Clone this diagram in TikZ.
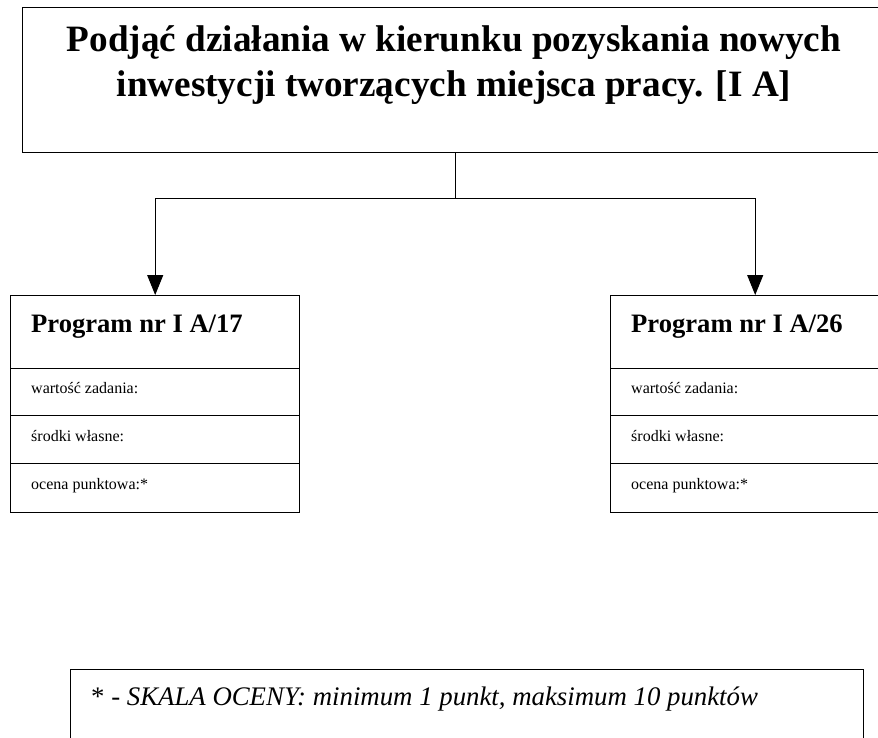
\documentclass[tikz,border=0pt]{standalone}
\usepackage{fontspec}
\setmainfont{Liberation Serif}
\usetikzlibrary{arrows.meta}
\begin{document}
\begin{tikzpicture}[x=1pt,y=-1pt,
  box/.style={draw, line width=1.4pt, inner sep=0pt, anchor=north west},
  conn/.style={line width=1pt},
  arr/.style={conn, -{Triangle[width=16pt,length=20pt]}},
  headtxt/.style={font=\fontsize{26.6}{30}\selectfont\bfseries, anchor=base west, inner sep=0pt},
  rowtxt/.style={font=\fontsize{16}{19}\selectfont, anchor=base west, inner sep=0pt}]
\useasboundingbox (0,0) rectangle (878,738);
\clip (0,0) rectangle (878,738);
% top box
\node[box, minimum width=866pt, minimum height=145pt] (top) at (22,7) {};
\node[font=\fontsize{37.2}{45}\selectfont\bfseries, align=center, anchor=base, inner sep=0pt] (title) at (454,97)
  {Podjąć działania w kierunku pozyskania nowych\\inwestycji tworzących miejsca pracy. [I A]};
% left program box
\node[box, minimum width=289pt, minimum height=73pt] (h1) at (10,295) {};
\node[box, minimum width=289pt, minimum height=47pt] (a1) at (10,368) {};
\node[box, minimum width=289pt, minimum height=48pt] (b1) at (10,415) {};
\node[box, minimum width=289pt, minimum height=49pt] (c1) at (10,463) {};
\node[headtxt] (h1t) at (31,332) {Program nr I A/17};
\node[rowtxt] (a1t) at (31,393) {wartość zadania:};
\node[rowtxt] (b1t) at (31,441) {środki własne:};
\node[rowtxt] (c1t) at (31,489) {ocena punktowa:*};
% right program box
\node[box, minimum width=289pt, minimum height=73pt] (h2) at (610,295) {};
\node[box, minimum width=289pt, minimum height=47pt] (a2) at (610,368) {};
\node[box, minimum width=289pt, minimum height=48pt] (b2) at (610,415) {};
\node[box, minimum width=289pt, minimum height=49pt] (c2) at (610,463) {};
\node[headtxt] (h2t) at (631,332) {Program nr I A/26};
\node[rowtxt] (a2t) at (631,393) {wartość zadania:};
\node[rowtxt] (b2t) at (631,441) {środki własne:};
\node[rowtxt] (c2t) at (631,489) {ocena punktowa:*};
% connectors
\coordinate (split) at (top.south |- 0,199);
\draw[conn] (top.south) -- (split);
\draw[arr] (split) -| (h1.north);
\draw[arr] (split) -| (h2.north);
% footnote
\node[box, minimum width=793pt, minimum height=120pt] (note) at (70,669) {};
\node[font=\fontsize{26.8}{30}\selectfont, anchor=base west, inner sep=0pt] (notet) at (91,705)
  {* \textit{- SKALA OCENY: minimum 1 punkt, maksimum 10 punktów}};
\end{tikzpicture}
\end{document}
